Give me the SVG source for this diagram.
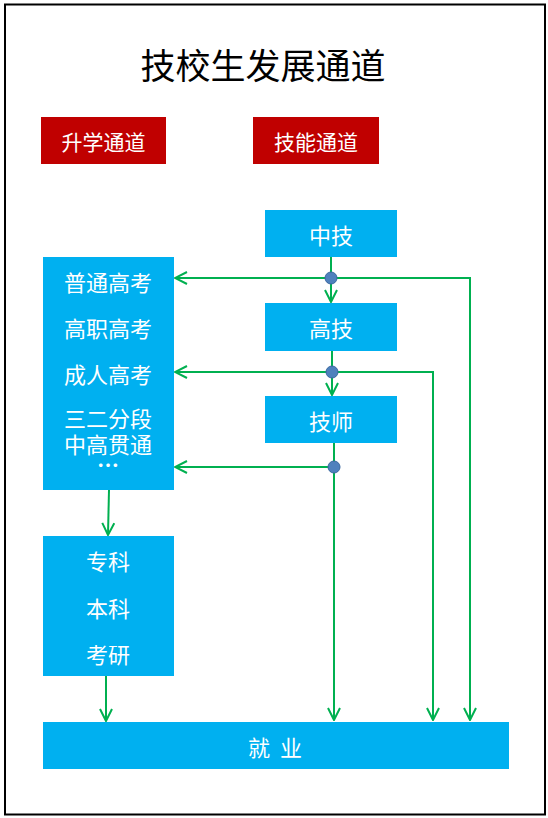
<svg xmlns="http://www.w3.org/2000/svg" width="548" height="818" viewBox="0 0 548 818">
<defs>
<style>
.box{fill:#00B0F0;}
.hdr{fill:#C00000;}
.t{font-family:"Noto Sans CJK SC","Noto Sans CJK JP",sans-serif;fill:#FFFFFF;font-size:21px;text-anchor:middle;dominant-baseline:central;}
.s{font-size:22px;}
.title{font-family:"Noto Sans CJK SC","Noto Sans CJK JP",sans-serif;fill:#000000;font-size:35px;text-anchor:middle;dominant-baseline:central;}
.ln{fill:none;stroke:#00B050;stroke-width:2;}
.arr{fill:none;stroke:#00B050;stroke-width:2;marker-end:url(#ah);}
.dot{fill:#4F81BD;stroke:#3A68A0;stroke-width:1;}
</style>
<marker id="ah" viewBox="0 0 14 14" refX="13" refY="7" markerWidth="14" markerHeight="14" markerUnits="userSpaceOnUse" orient="auto">
<path d="M1,1 L13,7 L1,13" fill="none" stroke="#00B050" stroke-width="2"/>
</marker>
</defs>
<rect x="0" y="0" width="548" height="818" fill="#FFFFFF"/>
<rect x="5" y="4.5" width="540" height="810" fill="none" stroke="#000000" stroke-width="2"/>
<text class="title" x="263" y="63">技校生发展通道</text>

<g id="hdr-shengxue"><rect class="hdr" x="41" y="117" width="125" height="47"/><text class="t" x="103.5" y="140.5">升学通道</text></g>
<g id="hdr-jineng"><rect class="hdr" x="253" y="117" width="126" height="47"/><text class="t" x="316" y="140.5">技能通道</text></g>

<g id="connectors">
<line class="arr" x1="331" y1="257" x2="331" y2="302"/>
<line class="arr" x1="332" y1="351" x2="332" y2="395"/>
<line class="arr" x1="331" y1="278" x2="175" y2="278"/>
<polyline class="arr" points="331,278 470,278 470,720"/>
<line class="arr" x1="332" y1="372" x2="175" y2="372"/>
<polyline class="arr" points="332,372 433,372 433,720"/>
<polyline class="ln" points="334,443 334,467"/>
<line class="arr" x1="334" y1="467" x2="175" y2="467"/>
<line class="arr" x1="334" y1="467" x2="334" y2="720"/>
<line class="arr" x1="109" y1="490" x2="108" y2="535"/>
<line class="arr" x1="106" y1="676" x2="106" y2="721"/>
<circle class="dot" cx="331" cy="278" r="6"/>
<circle class="dot" cx="332" cy="372" r="6"/>
<circle class="dot" cx="334" cy="467" r="6"/>
</g>

<g id="zhongji"><rect class="box" x="265" y="210" width="132" height="47"/><text class="t s" x="331" y="233.5">中技</text></g>
<g id="gaoji"><rect class="box" x="265" y="303" width="132" height="48"/><text class="t s" x="331" y="327">高技</text></g>
<g id="jishi"><rect class="box" x="265" y="396" width="132" height="47"/><text class="t s" x="331" y="419.5">技师</text></g>
<g id="shengxue"><rect class="box" x="43" y="257" width="131" height="233"/>
<text class="t s" x="108" y="281">普通高考</text>
<text class="t s" x="108" y="327">高职高考</text>
<text class="t s" x="108" y="373">成人高考</text>
<text class="t s" x="108" y="417">三二分段</text>
<text class="t s" x="108" y="443">中高贯通</text>
<text class="t s" x="108" y="463" font-weight="bold">…</text>
</g>
<g id="xueli"><rect class="box" x="43" y="536" width="131" height="140"/>
<text class="t s" x="108" y="560">专科</text>
<text class="t s" x="108" y="607">本科</text>
<text class="t s" x="108" y="653">考研</text>
</g>
<g id="jiuye"><rect class="box" x="43" y="722" width="466" height="47"/><text class="t s" x="275" y="745.5" xml:space="preserve">就  业</text></g>
</svg>
